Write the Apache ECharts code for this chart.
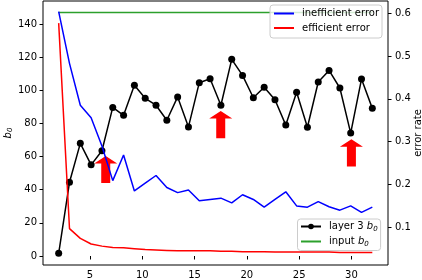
<!DOCTYPE html>
<html>
<head>
<meta charset="utf-8">
<script src="https://cdn.jsdelivr.net/npm/echarts@6/dist/echarts.min.js"></script>
<style>
html,body{margin:0;padding:0;background:#fff;}
#chart{width:422px;height:280px;}
</style>
</head>
<body>
<div id="chart"></div>
<script>
// ---- data ----
const xValues = [2, 3.034, 4.069, 5.103, 6.138, 7.172, 8.207, 9.241, 10.276, 11.31,
  12.345, 13.379, 14.414, 15.448, 16.483, 17.517, 18.552, 19.586, 20.621, 21.655,
  22.69, 23.724, 24.759, 25.793, 26.828, 27.862, 28.897, 29.931, 30.966, 32];
const layer3B0 = [1.6, 44.5, 68, 55, 63.5, 89.7, 84.9, 103, 95.2, 91,
  81.9, 96, 77.9, 104.6, 107, 91, 118.7, 109, 95.5, 101.8,
  94.3, 79, 98.8, 77.7, 105, 112, 101.4, 74.2, 106.8, 89.1];
const inputB0 = [147, 147, 147, 147, 147, 147, 147, 147, 147, 147,
  147, 147, 147, 147, 147, 147, 147, 147, 147, 147,
  147, 147, 147, 147, 147, 147, 147, 147, 147, 147];
const inefficientError = [0.604, 0.483, 0.385, 0.356, 0.29, 0.209, 0.269, 0.185, 0.203, 0.221,
  0.193, 0.181, 0.187, 0.162, 0.165, 0.168, 0.157, 0.176, 0.165, 0.147,
  0.165, 0.183, 0.150, 0.147, 0.160, 0.148, 0.140, 0.150, 0.135, 0.147];
const efficientError = [0.577, 0.097, 0.074, 0.061, 0.056, 0.053, 0.052, 0.050, 0.048, 0.047,
  0.046, 0.045, 0.045, 0.045, 0.045, 0.044, 0.044, 0.043, 0.043, 0.043,
  0.042, 0.042, 0.042, 0.042, 0.042, 0.042, 0.041, 0.041, 0.041, 0.041];
const arrowX = [6.5, 17.5, 30.0];
const arrowBase = [44, 71, 54];
const arrowTip = [60.3, 87.5, 70.4];
const xTicks = [5, 10, 15, 20, 25, 30];
const leftTicks = [0, 20, 40, 60, 80, 100, 120, 140];
const rightTicks = [0.1, 0.2, 0.3, 0.4, 0.5, 0.6];

function pairs(xs, ys) { return xs.map((x, i) => [x, ys[i]]); }

const FONT = 'DejaVu Sans';
const richSub = {
  n: {fontFamily: FONT, fontSize: 10, color: '#000'},
  i: {fontFamily: FONT, fontSize: 10, fontStyle: 'italic', color: '#000'},
  s: {fontFamily: FONT, fontSize: 7, fontStyle: 'italic', color: '#000', verticalAlign: 'bottom', padding: [5, 0, 0, 0]}
};

const chart = echarts.init(document.getElementById('chart'), null, {renderer: 'canvas'});
const option = {
  animation: false,
  backgroundColor: '#fff',
  textStyle: {fontFamily: FONT},
  grid: {left: 43, right: 34, top: 1, bottom: 15, containLabel: false, outerBoundsMode: 'none',
    show: true, borderColor: '#000', borderWidth: 1, backgroundColor: 'transparent'},
  xAxis: {
    type: 'value', min: 0.5, max: 33.5,
    axisLine: {show: false},
    splitLine: {show: false},
    axisTick: {show: true, length: 3.5, lineStyle: {color: '#000'}, customValues: xTicks},
    axisLabel: {color: '#000', fontSize: 10, fontFamily: FONT, margin: 5, customValues: xTicks}
  },
  yAxis: [{
    type: 'value', min: -5.43, max: 153.9,
    position: 'left',
    name: '{i|b}{s|0}', nameLocation: 'middle', nameRotate: 90, nameGap: 29, nameMoveOverlap: false,
    nameTextStyle: {rich: richSub},
    axisLine: {show: false},
    splitLine: {show: false},
    axisTick: {show: true, length: 3.5, lineStyle: {color: '#000'}, customValues: leftTicks},
    axisLabel: {color: '#000', fontSize: 10, fontFamily: FONT, margin: 6, customValues: leftTicks}
  }, {
    type: 'value', min: 0.0119, max: 0.6287,
    position: 'right',
    name: 'error rate', nameLocation: 'middle', nameRotate: 90, nameGap: 25, nameMoveOverlap: false,
    nameTextStyle: {color: '#000', fontSize: 10, fontFamily: FONT},
    axisLine: {show: false},
    splitLine: {show: false},
    axisTick: {show: true, length: 3.5, lineStyle: {color: '#000'}, customValues: rightTicks},
    axisLabel: {color: '#000', fontSize: 10, fontFamily: FONT, margin: 7, customValues: rightTicks,
      formatter: v => v.toFixed(1)}
  }],
  legend: [{
    data: ['inefficient error', 'efficient error'],
    orient: 'vertical', left: 270, top: 5,
    z: 6,
    itemWidth: 20, itemHeight: 7, itemGap: 2.5,
    padding: [2.5, 3, 4, 3],
    backgroundColor: 'rgba(255,255,255,0.8)', borderColor: '#ccc', borderWidth: 1, borderRadius: 3,
    textStyle: {color: '#000', fontSize: 10, fontFamily: FONT, lineHeight: 12, padding: [0, 0, 0, 3]}
  }, {
    data: ['layer 3 b0', 'input b0'],
    orient: 'vertical', left: 297.5, top: 219,
    z: 2,
    itemWidth: 20, itemHeight: 7, itemGap: 4,
    padding: [2.5, 3, 3, 2.5],
    backgroundColor: 'rgba(255,255,255,0.8)', borderColor: '#ccc', borderWidth: 1, borderRadius: 3,
    formatter: name => name === 'layer 3 b0' ? '{n|layer 3 }{i|b}{s|0}' : '{n|input }{i|b}{s|0}',
    textStyle: {color: '#000', fontSize: 10, fontFamily: FONT, padding: [0, 0, 0, 3], rich: richSub}
  }],
  series: [{
    name: 'arrows', type: 'custom', yAxisIndex: 0, z: 1, silent: true,
    data: arrowX.map((x, i) => [x, arrowBase[i], arrowTip[i]]),
    renderItem: function (params, api) {
      const b = api.coord([api.value(0), api.value(1)]);
      const t = api.coord([api.value(0), api.value(2)]);
      const cx = b[0], hw = 11.5, sw = 4.5, hl = 7.5;
      return {
        type: 'polygon',
        shape: {points: [[cx, t[1]], [cx + hw, t[1] + hl], [cx + sw, t[1] + hl], [cx + sw, b[1]],
          [cx - sw, b[1]], [cx - sw, t[1] + hl], [cx - hw, t[1] + hl]]},
        style: {fill: '#ff0000', stroke: null}
      };
    }
  }, {
    name: 'layer 3 b0', type: 'line', yAxisIndex: 0, z: 2,
    data: pairs(xValues, layer3B0),
    symbol: 'circle', symbolSize: 7, showSymbol: true,
    lineStyle: {color: '#000', width: 1.5}, itemStyle: {color: '#000'}
  }, {
    name: 'input b0', type: 'line', yAxisIndex: 0, z: 2,
    data: pairs(xValues, inputB0),
    symbol: 'none',
    lineStyle: {color: '#2ca02c', width: 1.5}, itemStyle: {color: '#2ca02c', opacity: 0}
  }, {
    name: 'inefficient error', type: 'line', yAxisIndex: 1, z: 3,
    data: pairs(xValues, inefficientError),
    symbol: 'none',
    lineStyle: {color: '#0000ff', width: 1.5}, itemStyle: {color: '#0000ff', opacity: 0}
  }, {
    name: 'efficient error', type: 'line', yAxisIndex: 1, z: 3,
    data: pairs(xValues, efficientError),
    symbol: 'none',
    lineStyle: {color: '#ff0000', width: 1.5}, itemStyle: {color: '#ff0000', opacity: 0}
  }]
};
chart.setOption(option);
</script>
</body>
</html>
